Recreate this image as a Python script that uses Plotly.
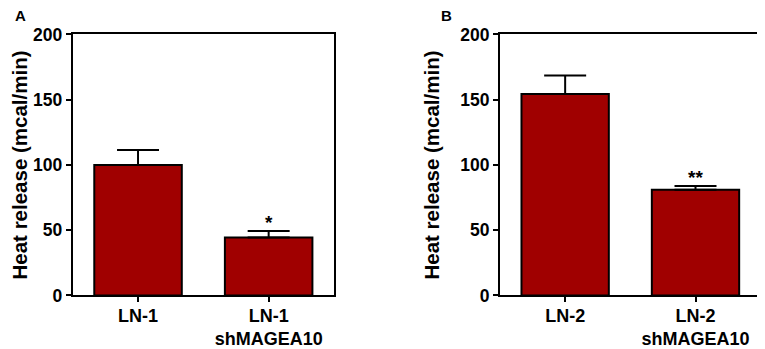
import plotly.graph_objects as go
from plotly.subplots import make_subplots

cats_a = ["LN-1", "LN-1<br>shMAGEA10"]
vals_a = [100, 44.5]
err_a = [11.5, 5]
sig_a = ["", "*"]

cats_b = ["LN-2", "LN-2<br>shMAGEA10"]
vals_b = [154.5, 81]
err_b = [14, 3]
sig_b = ["", "**"]

y_ticks = [0, 50, 100, 150, 200]

BAR = "#A00000"
FONT = "Liberation Sans, Arial, sans-serif"

# page body has an 8px margin; figure fills the rest of the 765x349 window
W, H = 757, 341

fig = make_subplots(rows=1, cols=2)

for col, cats, vals, errs in [(1, cats_a, vals_a, err_a), (2, cats_b, vals_b, err_b)]:
    fig.add_trace(go.Bar(
        x=cats, y=vals, width=0.67,
        marker=dict(color=BAR, line=dict(color="black", width=2)),
        error_y=dict(type="data", symmetric=False, array=errs, arrayminus=[0] * len(errs),
                     color="black", thickness=2, width=21),
        showlegend=False, hoverinfo="skip"), row=1, col=col)

fig.update_layout(
    width=W, height=H,
    margin=dict(l=0, r=0, t=0, b=0, autoexpand=False),
    paper_bgcolor="white", plot_bgcolor="white",
    font=dict(family=FONT, color="black"),
    xaxis=dict(domain=[0.0855, 0.4306]),
    xaxis2=dict(domain=[0.6499, 0.9943]),
    yaxis=dict(domain=[0.1569, 0.9223]),
    yaxis2=dict(domain=[0.1569, 0.9223]),
)

for ax in ["xaxis", "xaxis2"]:
    fig.layout[ax].update(
        range=[-0.5, 1.5], showline=True, linecolor="black", linewidth=2, mirror=True,
        ticks="outside", ticklen=5, tickwidth=2, tickcolor="black", showgrid=False,
        automargin=False, ticklabelstandoff=-2,
        tickfont=dict(family=FONT, size=18, color="black", weight="bold"), fixedrange=True)

for ax in ["yaxis", "yaxis2"]:
    fig.layout[ax].update(
        range=[0, 200], tickvals=y_ticks, ticktext=[str(v) for v in y_ticks],
        showline=True, linecolor="black", linewidth=2, mirror=True,
        ticks="outside", ticklen=5, tickwidth=2, tickcolor="black", showgrid=False, zeroline=False,
        automargin=False,
        tickfont=dict(family=FONT, size=17.5, color="black", weight="bold"),
        title=dict(text="Heat release (mcal/min)",
                   font=dict(family=FONT, size=20.5, color="black", weight="bold")),
        fixedrange=True)

for xr, yr, cats, vals, errs, sigs in [("x", "y", cats_a, vals_a, err_a, sig_a),
                                        ("x2", "y2", cats_b, vals_b, err_b, sig_b)]:
    for c, v, e, s in zip(cats, vals, errs, sigs):
        if s:
            fig.add_annotation(x=c, y=v + e, xref=xr, yref=yr, text=s, showarrow=False,
                               yanchor="bottom", yshift=-4,
                               font=dict(family=FONT, size=19, color="black", weight="bold"))

fig.add_annotation(x=5 / W, y=1.0, xref="paper", yref="paper", text="A", showarrow=False,
                   xanchor="left", yanchor="top", yshift=3,
                   font=dict(family=FONT, size=15, color="black", weight="bold"))
fig.add_annotation(x=431 / W, y=1.0, xref="paper", yref="paper", text="B", showarrow=False,
                   xanchor="left", yanchor="top", yshift=3,
                   font=dict(family=FONT, size=15, color="black", weight="bold"))

fig.write_html("out.html")
